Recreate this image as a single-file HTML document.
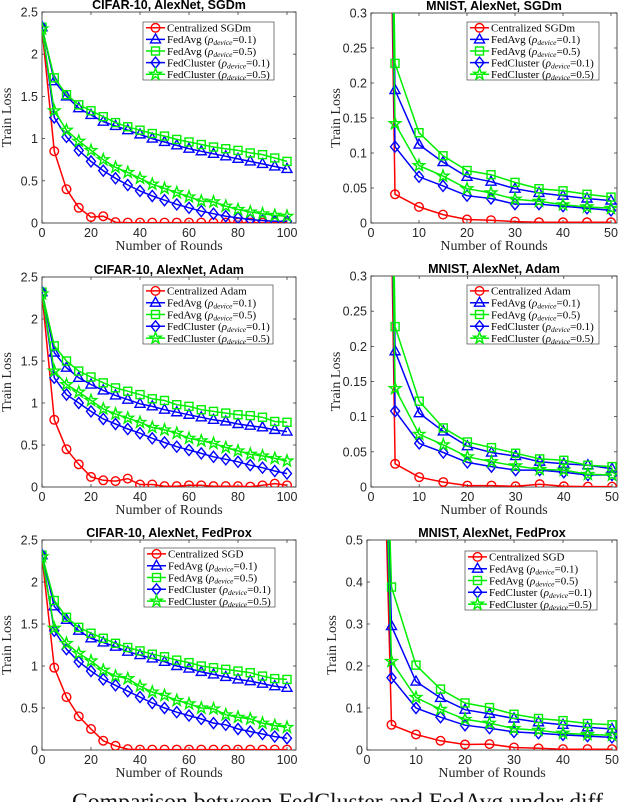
<!DOCTYPE html>
<html><head><meta charset="utf-8"><style>
body{margin:0;background:#fff;overflow:hidden;}
svg{display:block;}
.tk{font-family:"Liberation Sans",sans-serif;font-size:12.5px;fill:#262626;}
.ttl{font-family:"Liberation Sans",sans-serif;font-size:12.5px;font-weight:bold;fill:#000;}
.lab{font-family:"Liberation Serif",serif;font-size:14px;fill:#262626;}
.leg{font-family:"Liberation Serif",serif;font-size:11px;fill:#000;}
</style></head><body>
<svg id="fig" width="640" height="802" viewBox="0 0 640 802" xmlns="http://www.w3.org/2000/svg">
<text x="72" y="809" class="lab" style="font-size:23px;fill:#111" textLength="531" lengthAdjust="spacingAndGlyphs">Comparison between FedCluster and FedAvg under diff</text>
</svg>
<script>
const xsC = [0,5,10,15,20,25,30,35,40,45,50,55,60,65,70,75,80,85,90,95,100];
const xsM = [0,5,10,15,20,25,30,35,40,45,50];
const seriesNames = ["centralized","fedavg-01","fedavg-05","fedcluster-01","fedcluster-05"];
const p1Red=[2.3,0.85,0.4,0.18,0.07,0.08,0.01,0.005,0.005,0.005,0.005,0.005,0.005,0.005,0.005,0.005,0.005,0.005,0.005,0.005,0.005];
const p1Tri=[2.32,1.68,1.5,1.36,1.28,1.2,1.15,1.1,1.05,1.0,0.96,0.92,0.88,0.85,0.82,0.79,0.76,0.73,0.7,0.67,0.64];
const p1Sq=[2.32,1.72,1.52,1.4,1.33,1.26,1.19,1.14,1.1,1.06,1.03,0.99,0.96,0.93,0.9,0.88,0.86,0.83,0.81,0.77,0.73];
const p1Dia=[2.32,1.25,1.02,0.86,0.73,0.62,0.53,0.45,0.38,0.32,0.27,0.22,0.18,0.14,0.11,0.08,0.06,0.04,0.03,0.02,0.02];
const p1Star=[2.3,1.33,1.1,0.97,0.86,0.75,0.66,0.6,0.53,0.46,0.41,0.36,0.31,0.26,0.25,0.2,0.16,0.13,0.11,0.09,0.08];
const p2Red=[2.3,.041,.023,.012,.005,.004,.002,.001,.001,.001,.001];
const p2Tri=[2.3,.19,.112,.087,.066,.059,.049,.043,.039,.035,.032];
const p2Sq=[2.3,.228,.129,.096,.075,.069,.058,.049,.046,.041,.037];
const p2Dia=[2.3,.109,.066,.053,.039,.035,.027,.027,.024,.021,.018];
const p2Star=[2.3,.142,.082,.067,.049,.043,.034,.031,.026,.023,.021];
const p3Red=[2.3,.8,.45,.27,.12,.08,.07,.1,.03,.03,.01,.01,.02,.02,.01,.01,.01,.005,.02,.04,.02];
const p3Tri=[2.32,1.6,1.42,1.3,1.22,1.15,1.09,1.04,0.99,0.96,0.92,0.89,0.86,0.83,0.8,0.78,0.75,0.73,0.71,0.68,0.66];
const p3Sq=[2.32,1.68,1.5,1.38,1.31,1.24,1.18,1.14,1.1,1.05,1.03,0.98,0.96,0.92,0.9,0.88,0.86,0.85,0.83,0.78,0.77];
const p3Dia=[2.32,1.3,1.1,1.0,0.9,0.81,0.75,0.69,0.64,0.58,0.53,0.48,0.44,0.4,0.36,0.33,0.3,0.26,0.23,0.19,0.16];
const p3Star=[2.3,1.38,1.22,1.13,1.03,0.93,0.87,0.82,0.77,0.71,0.68,0.64,0.58,0.55,0.52,0.47,0.43,0.39,0.37,0.34,0.31];
const p4Red=[2.3,.033,.014,.007,.002,.002,.001,.004,.001,.0005,.0005];
const p4Tri=[2.3,.193,.105,.079,.058,.049,.044,.036,.033,.031,.026];
const p4Sq=[2.3,.228,.122,.084,.064,.056,.048,.04,.038,.031,.029];
const p4Dia=[2.3,.108,.062,.049,.035,.029,.024,.024,.021,.017,.017];
const p4Star=[2.3,.14,.075,.06,.043,.036,.03,.025,.024,.018,.017];
const p5Red=[2.3,.98,.63,.4,.25,.11,.05,.01,.005,.005,.005,.005,.005,.005,.005,.005,.005,.005,.005,.005,.005];
const p5Tri=[2.32,1.71,1.55,1.42,1.33,1.28,1.23,1.17,1.13,1.09,1.05,1.0,0.97,0.93,0.9,0.87,0.84,0.82,0.79,0.76,0.74];
const p5Sq=[2.32,1.78,1.58,1.46,1.39,1.33,1.27,1.22,1.18,1.14,1.11,1.07,1.04,1.0,0.98,0.96,0.94,0.92,0.88,0.85,0.84];
const p5Dia=[2.32,1.42,1.2,1.05,0.94,0.84,0.77,0.7,0.63,0.56,0.5,0.45,0.41,0.37,0.32,0.3,0.25,0.22,0.19,0.16,0.14];
const p5Star=[2.3,1.45,1.27,1.15,1.06,0.95,0.88,0.85,0.76,0.69,0.65,0.59,0.55,0.5,0.49,0.42,0.39,0.37,0.32,0.29,0.27];
const p6Red=[2.3,.06,.037,.022,.013,.014,.006,.004,.002,.002,.002];
const p6Tri=[2.3,.295,.163,.124,.096,.086,.075,.066,.06,.054,.05];
const p6Sq=[2.3,.388,.202,.145,.112,.101,.085,.075,.07,.063,.06];
const p6Dia=[2.3,.172,.1,.078,.059,.052,.043,.04,.036,.033,.03];
const p6Star=[2.3,.211,.125,.097,.073,.064,.051,.047,.04,.037,.035];
const ticksC=[0,20,40,60,80,100];
const ticksM=[0,10,20,30,40,50];
const yTicksC=[0,0.5,1,1.5,2,2.5];
const yTicksM=[0,0.05,0.1,0.15,0.2,0.25,0.3];
const yTicksP=[0,0.1,0.2,0.3,0.4,0.5];
const yTickLabC=["0","0.5","1","1.5","2","2.5"];
const yTickLabM=["0","0.05","0.1","0.15","0.2","0.25","0.3"];
const yTickLabP=["0","0.1","0.2","0.3","0.4","0.5"];

const NS="http://www.w3.org/2000/svg";
const svg=document.getElementById('fig');
function mk(tag,attrs,parent){const e=document.createElementNS(NS,tag);for(const k in attrs)e.setAttribute(k,attrs[k]);(parent||svg).appendChild(e);return e;}
const colors=["#ff0000","#0000ff","#00ee00","#0000ff","#00ee00"];
const shapes=["circle","tri","square","diamond","star"];
function marker(g,shape,x,y,col){
  let e;
  if(shape==="circle") e=mk('circle',{cx:x,cy:y,r:4.3,fill:'none',stroke:col,'stroke-width':1.4},g);
  else if(shape==="square") e=mk('rect',{x:x-4,y:y-4,width:8,height:8,fill:'none',stroke:col,'stroke-width':1.4},g);
  else if(shape==="tri") e=mk('polygon',{points:`${x},${y-5.5} ${x+5},${y+3.5} ${x-5},${y+3.5}`,fill:'none',stroke:col,'stroke-width':1.4},g);
  else if(shape==="diamond") e=mk('polygon',{points:`${x},${y-5.5} ${x+4.5},${y} ${x},${y+5.5} ${x-4.5},${y}`,fill:'none',stroke:col,'stroke-width':1.4},g);
  else {let p=[];for(let i=0;i<10;i++){const r=i%2?2.4:6;const a=-Math.PI/2+i*Math.PI/5;p.push((x+r*Math.cos(a)).toFixed(1)+','+(y+r*Math.sin(a)).toFixed(1));}
    e=mk('polygon',{points:p.join(' '),fill:'none',stroke:col,'stroke-width':1.4},g);}
  
  
  return e;
}
function panel(id,cfg){
  const g=mk('g',{});
  
  
  const {L,R,T,B,x0,x1,xmax,ymax,xs,series,xt,yt,ytl,title,legend,leg}=cfg;
  const sx=v=>x0+(x1-x0)*v/xmax;
  const sy=v=>B-(B-T)*v/ymax;
  const cp=mk('clipPath',{id:'cp'+id},g);mk('rect',{x:L,y:T,width:R-L,height:B-T},cp);
  const box=mk('rect',{x:L,y:T,width:R-L,height:B-T,fill:'#fff',stroke:'#262626','stroke-width':0.8},g);
  
  
  xt.forEach(v=>{const X=sx(v);mk('line',{x1:X,y1:B,x2:X,y2:B-3,stroke:'#262626','stroke-width':0.7},g);mk('line',{x1:X,y1:T,x2:X,y2:T+3,stroke:'#262626','stroke-width':0.7},g);
    const t=mk('text',{x:X,y:B+14,'text-anchor':'middle',class:'tk'},g);t.textContent=v;
    
    });
  yt.forEach((v,i)=>{const Y=sy(v);mk('line',{x1:L,y1:Y,x2:L+3,y2:Y,stroke:'#262626','stroke-width':0.7},g);mk('line',{x1:R,y1:Y,x2:R-3,y2:Y,stroke:'#262626','stroke-width':0.7},g);
    const t=mk('text',{x:L-4,y:Y+4.5,'text-anchor':'end',class:'tk'},g);t.textContent=ytl[i];
    
    });
  const pg=mk('g',{'clip-path':`url(#cp${id})`},g);
  series.forEach((ys,si)=>{
    const sg=mk('g',{},pg);
    
    
    const pts=ys.map((v,i)=>sx(xs[i]).toFixed(1)+','+sy(v).toFixed(1)).join(' ');
    mk('polyline',{points:pts,fill:'none',stroke:colors[si],'stroke-width':1.5},sg);
    ys.forEach((v,i)=>{if(v<=ymax*1.02)marker(sg,shapes[si],sx(xs[i]),sy(v),colors[si]);});
  });
  const tt=mk('text',{x:(L+R)/2,y:T-3,'text-anchor':'middle',class:'ttl'},g);tt.textContent=title;
  
  
  const xl=mk('text',{x:(L+R)/2,y:B+27,'text-anchor':'middle',class:'lab'},g);xl.textContent='Number of Rounds';
  
  
  const yx=L-31,yc=(T+B)/2;
  const yl=mk('text',{x:yx,y:yc,'text-anchor':'middle',class:'lab',transform:`rotate(-90 ${yx} ${yc})`},g);yl.textContent='Train Loss';
  
  
  const lg=mk('g',{},g);
  
  
  mk('rect',{x:leg[0],y:leg[1],width:leg[2]-leg[0],height:leg[3]-leg[1],fill:'#fff',stroke:'#262626','stroke-width':0.6},lg);
  const labels=[[legend],["FedAvg (","=0.1)"],["FedAvg (","=0.5)"],["FedCluster (","=0.1)"],["FedCluster (","=0.5)"]];
  const dy=(leg[3]-leg[1])/5;
  labels.forEach((lb,i)=>{
    const y=leg[1]+dy*(i+0.5);
    const eg=mk('g',{},lg);
    
    
    mk('line',{x1:leg[0]+3,y1:y,x2:leg[0]+22,y2:y,stroke:colors[i],'stroke-width':1.5},eg);
    marker(eg,shapes[i],leg[0]+12.5,y,colors[i]);
    const t=mk('text',{x:leg[0]+24,y:y+3.8,class:'leg'},eg);
    if(lb.length===1){t.textContent=lb[0];}
    else{
      const a=mk('tspan',{},t);a.textContent=lb[0];
      const r=mk('tspan',{'font-style':'italic'},t);r.textContent='ρ';
      const s=mk('tspan',{'font-style':'italic','font-size':'7.5px',dy:'2'},t);s.textContent='device';
      const b=mk('tspan',{dy:'-2'},t);b.textContent=lb[1];
    }
  });
}
panel('chart-cifar-sgdm',{L:42,R:296,T:12,B:223,x0:42,x1:287,xmax:100,ymax:2.5,xs:xsC,series:[p1Red,p1Tri,p1Sq,p1Dia,p1Star],xt:ticksC,yt:yTicksC,ytl:yTickLabC,title:'CIFAR-10, AlexNet, SGDm',legend:'Centralized SGDm',leg:[143,22,274,80]});
panel('chart-mnist-sgdm',{L:371,R:617,T:13,B:223,x0:371,x1:611,xmax:50,ymax:0.3,xs:xsM,series:[p2Red,p2Tri,p2Sq,p2Dia,p2Star],xt:ticksM,yt:yTicksM,ytl:yTickLabM,title:'MNIST, AlexNet, SGDm',legend:'Centralized SGDm',leg:[467,22,599,80]});
panel('chart-cifar-adam',{L:42,R:296,T:277,B:487,x0:42,x1:287,xmax:100,ymax:2.5,xs:xsC,series:[p3Red,p3Tri,p3Sq,p3Dia,p3Star],xt:ticksC,yt:yTicksC,ytl:yTickLabC,title:'CIFAR-10, AlexNet, Adam',legend:'Centralized Adam',leg:[143,285,273,344]});
panel('chart-mnist-adam',{L:371,R:617,T:276,B:487,x0:371,x1:612,xmax:50,ymax:0.3,xs:xsM,series:[p4Red,p4Tri,p4Sq,p4Dia,p4Star],xt:ticksM,yt:yTicksM,ytl:yTickLabM,title:'MNIST, AlexNet, Adam',legend:'Centralized Adam',leg:[467,285,599,344]});
panel('chart-cifar-fedprox',{L:42,R:296,T:540,B:750,x0:42,x1:287,xmax:100,ymax:2.5,xs:xsC,series:[p5Red,p5Tri,p5Sq,p5Dia,p5Star],xt:ticksC,yt:yTicksC,ytl:yTickLabC,title:'CIFAR-10, AlexNet, FedProx',legend:'Centralized SGD',leg:[144,548,275,607]});
panel('chart-mnist-fedprox',{L:367,R:617,T:540,B:750,x0:367,x1:612,xmax:50,ymax:0.5,xs:xsM,series:[p6Red,p6Tri,p6Sq,p6Dia,p6Star],xt:ticksM,yt:yTicksP,ytl:yTickLabP,title:'MNIST, AlexNet, FedProx',legend:'Centralized SGD',leg:[465,551,597,610]});
</script>
</body></html>
